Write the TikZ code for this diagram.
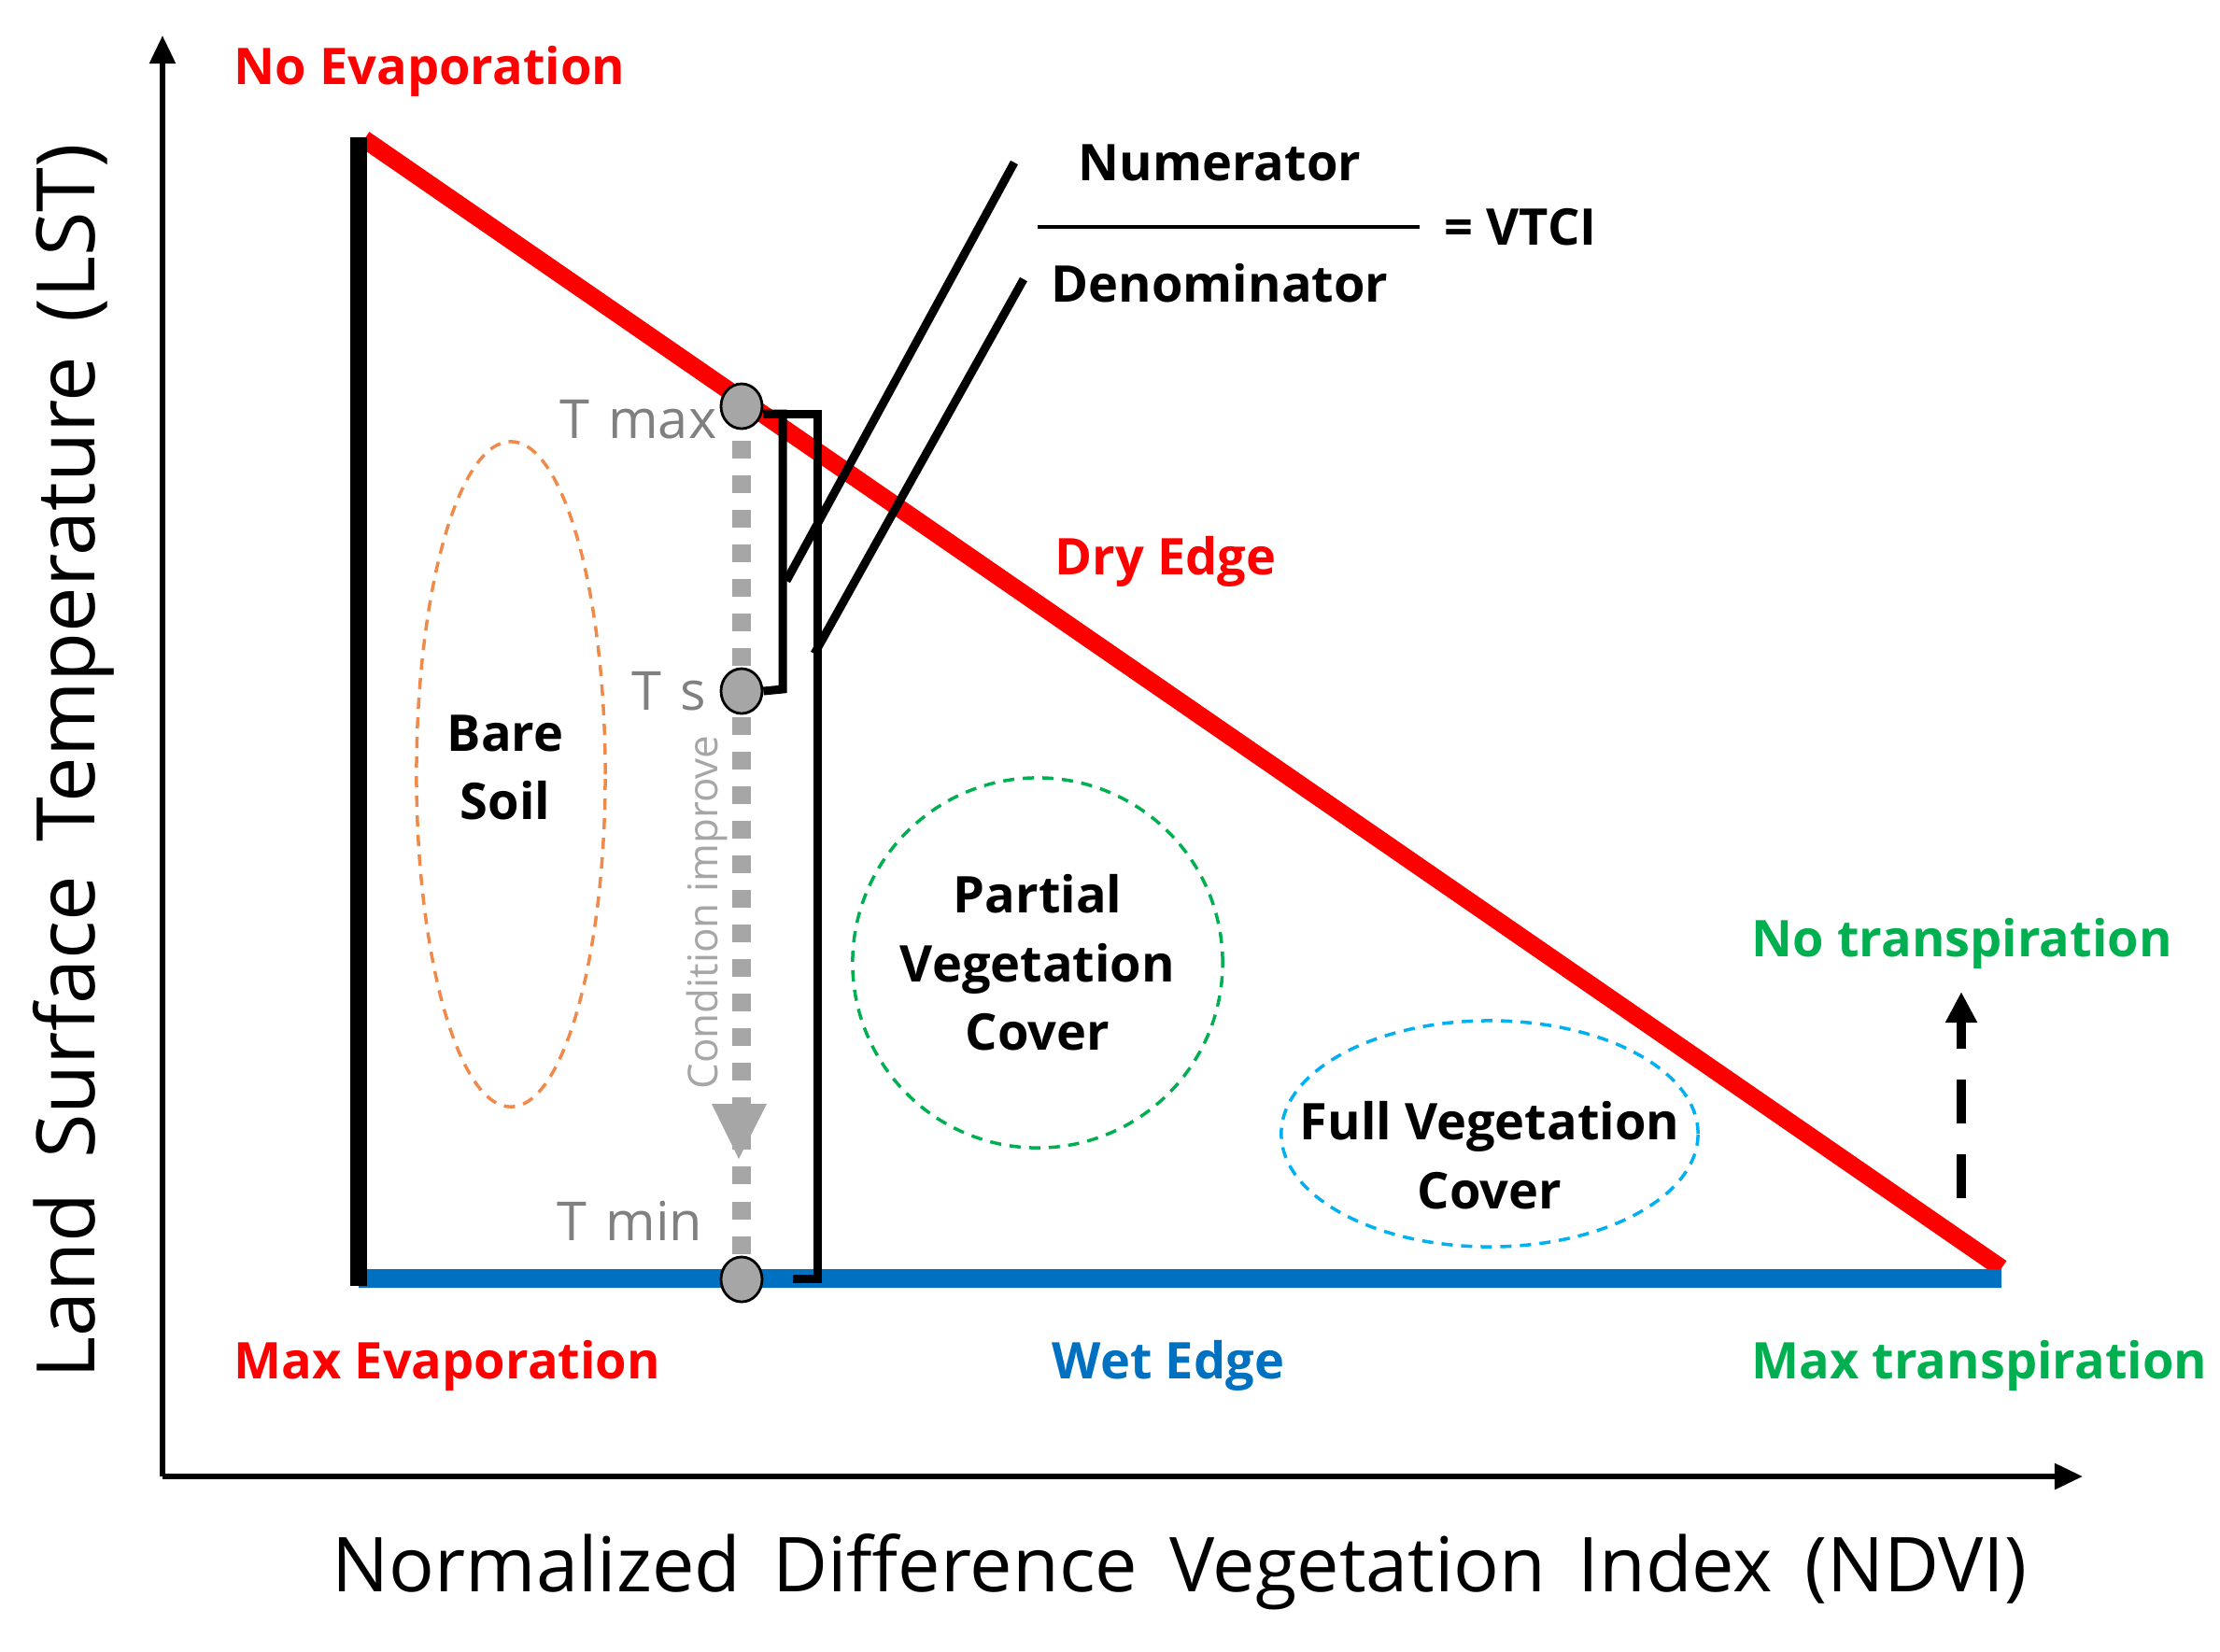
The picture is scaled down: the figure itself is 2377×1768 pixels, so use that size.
\documentclass[tikz,border=0pt]{standalone}
\usepackage{fontspec}
\setmainfont{Open Sans}
\usetikzlibrary{arrows.meta,shapes.geometric}
\definecolor{myred}{HTML}{FF0000}
\definecolor{myblue}{HTML}{0070C0}
\definecolor{mygreen}{HTML}{00B050}
\definecolor{myorange}{HTML}{F08A4B}
\definecolor{mycyan}{HTML}{00B0F0}
\definecolor{tgray}{HTML}{808080}
\definecolor{dotgray}{HTML}{A6A6A6}
\begin{document}
\begin{tikzpicture}[x=0.01cm,y=-0.01cm,
  lbl/.style={font=\fontsize{15.4pt}{20.9pt}\selectfont\bfseries, inner sep=0pt, align=center},
  tlbl/.style={font=\fontsize{16.4pt}{20pt}\selectfont, text=tgray, inner sep=0pt},
  axislbl/.style={font=\fontsize{23.6pt}{28pt}\selectfont, inner sep=0pt},
  dot/.style={ellipse, draw=black, line width=0.8pt, fill=dotgray, minimum width=0.44cm, minimum height=0.48cm, inner sep=0pt},
  bracket/.style={line width=0.09cm, black},
  zone/.style={ellipse, draw, line width=0.035cm, dash pattern=on 0.12cm off 0.09cm, inner sep=0pt},
  axis/.style={line width=0.055cm, -{Triangle[length=0.3cm,width=0.27cm]}},
]
\useasboundingbox (0,0) rectangle (2377,1768);

% coordinates
\coordinate (orig) at (174,1581);
\coordinate (ytop) at (174,38);
\coordinate (xend) at (2230,1581);
\coordinate (dryA) at (390,149);
\coordinate (dryB) at (2143,1358);
\coordinate (wetA) at (384,1369);
\coordinate (wetB) at (2143,1369);
\coordinate (barT) at (384,147);
\coordinate (barB) at (384,1377);
\coordinate (cmax) at (794,435);
\coordinate (cs) at (794,740);
\coordinate (cmin) at (794,1370);
\coordinate (ibr) at (838,738);
\coordinate (obr) at (875,1369);
\coordinate (obe) at (849,1369);
\coordinate (n1a) at (842,622);
\coordinate (n1b) at (1086,174);
\coordinate (n2a) at (872,700);
\coordinate (n2b) at (1096,299);
\coordinate (fracA) at (1111,243);
\coordinate (fracB) at (1520,243);
\coordinate (upA) at (2100,1283);
\coordinate (upB) at (2100,1062);

% axes
\draw[axis] (orig) -- (ytop);
\draw[axis] (orig) -- (xend);

% edges
\draw[myred, line width=0.19cm] (dryA) -- (dryB);
\draw[myblue, line width=0.2cm] (wetA) -- (wetB);
\draw[black, line width=0.18cm] (barT) -- (barB);

% zones
\node[zone, draw=myorange, minimum width=2.02cm, minimum height=7.12cm] (bare) at (547,829) {};
\node[zone, draw=mygreen, minimum width=3.96cm, minimum height=3.96cm] (partial) at (1111,1031) {};
\node[zone, draw=mycyan, minimum width=4.46cm, minimum height=2.42cm] (full) at (1595,1214) {};

\node[lbl] (bareT) at (541,822) {Bare\\Soil};
\node[lbl] (partT) at (1111,1031) {Partial\\Vegetation\\Cover};
\node[lbl] (fullT) at (1595,1237) {Full Vegetation\\Cover};

% gray dashed condition line
\draw[dotgray, line width=0.2cm, dash pattern=on 0.19cm off 0.18cm] (cmax) -- (cmin);
\fill[dotgray] (762,1182) -- (821,1182) -- (791,1241) -- cycle;

% circles
\node[dot] (Tmax) at (cmax) {};
\node[dot] (Ts) at (cs) {};
\node[dot] (Tmin) at (cmin) {};

% brackets
\draw[bracket] ([yshift=-0.08cm]Tmax.east) -| (ibr) -- (Ts.east);
\draw[bracket] ([yshift=-0.08cm]Tmax.east) -| (obr) -- (obe);
\draw[bracket] (n1a) -- (n1b);
\draw[bracket] (n2a) -- (n2b);
\draw[line width=0.04cm] (fracA) -- (fracB);

% dashed arrow
\draw[line width=0.1cm, dash pattern=on 0.47cm off 0.33cm, -{Triangle[length=0.33cm,width=0.32cm]}] (upA) -- (upB);

% labels
\node[lbl, text=myred, anchor=west] (noevap) at (250,76) {No Evaporation};
\node[lbl, text=myred, anchor=west] (maxevap) at (250,1462) {Max Evaporation};
\node[lbl, text=myblue] (wet) at (1251,1462) {Wet Edge};
\node[lbl, text=mygreen, anchor=west] (maxtr) at (1875,1462) {Max transpiration};
\node[lbl, text=mygreen, anchor=west] (notr) at (1875,1010) {No transpiration};
\node[lbl, text=myred, anchor=west] (dry) at (1129,601) {Dry Edge};
\node[lbl] (num) at (1306,174) {Numerator};
\node[lbl] (den) at (1306,303) {Denominator};
\node[lbl, anchor=west] (vtci) at (1546,243) {= VTCI};

\node[tlbl, anchor=east] (tmaxL) at (768,449) {\spaceskip=0.35em T max};
\node[tlbl, anchor=east] (tsL) at (757,740) {\spaceskip=0.35em T s};
\node[tlbl, anchor=east] (tminL) at (753,1307) {\spaceskip=0.35em T min};
\node[font=\fontsize{12.5pt}{15pt}\selectfont, text=dotgray, inner sep=0pt, rotate=90] (cond) at (757,977) {Condition improve};

\node[axislbl, font=\fontsize{24.6pt}{28pt}\selectfont, rotate=90] (ylab) at (79,815) {\spaceskip=0.42em Land Surface Temperature (LST)};
\node[axislbl, font=\fontsize{23.05pt}{28pt}\selectfont] (xlab) at (1263,1683) {\spaceskip=0.42em Normalized Difference Vegetation Index (NDVI)};
\end{tikzpicture}
\end{document}
